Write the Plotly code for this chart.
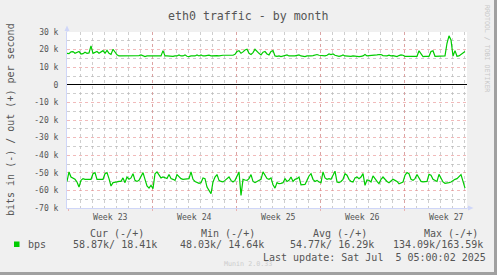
import plotly.graph_objects as go
import pandas as pd

# ---------------- data ----------------
start_time = "2025-06-01 22:00"
end_time = "2025-07-05 06:00"
sample_hours = 4

# out (+) traffic, kbit/s
out_kbps = [
    17.9, 17.7, 18.7, 18.9, 17.9, 18.5, 18.9, 17.5, 17.7, 18.5,
    17.9, 18.1, 22.1, 17.9, 18.5, 18.9, 17.9, 18.7, 19.4, 17.9,
    19.6, 17.9, 17.3, 20.2, 18.7, 17.0, 16.4, 16.4, 16.6, 16.2,
    16.4, 16.2, 16.2, 16.4, 16.2, 16.4, 16.6, 17.0, 16.4, 16.0,
    16.4, 16.4, 16.2, 16.4, 16.2, 16.4, 16.2, 16.4, 19.4, 16.4,
    16.4, 16.2, 16.4, 16.2, 16.4, 16.4, 17.0, 16.4, 16.4, 17.0,
    16.2, 16.0, 16.4, 16.2, 16.4, 17.0, 16.4, 17.0, 16.4, 16.4,
    16.6, 16.8, 16.4, 16.6, 16.4, 16.6, 16.4, 16.8, 16.8, 16.8,
    16.8, 16.8, 16.8, 16.8, 17.3, 18.9, 19.4, 17.9, 18.7, 19.8,
    20.2, 17.9, 17.2, 18.3, 20.2, 18.7, 17.9, 17.0, 18.5, 18.9,
    17.5, 17.0, 18.9, 19.4, 16.4, 16.2, 16.4, 16.0, 16.4, 16.8,
    17.0, 16.4, 16.2, 16.4, 16.4, 16.8, 17.0, 16.4, 16.2, 16.0,
    16.4, 16.2, 16.4, 16.6, 17.0, 17.2, 16.8, 16.6, 16.6, 16.4,
    16.8, 17.5, 17.2, 17.5, 16.8, 16.4, 16.2, 16.4, 17.0, 16.4,
    16.2, 16.0, 16.2, 16.4, 16.2, 16.4, 16.0, 16.2, 16.4, 17.2,
    16.4, 16.6, 16.6, 16.8, 16.6, 17.0, 17.2, 17.2, 16.6, 16.4,
    16.4, 16.8, 16.4, 16.6, 16.2, 16.0, 16.6, 17.0, 16.8, 16.2,
    16.2, 16.4, 16.2, 16.2, 16.4, 16.2, 19.3, 17.9, 16.0, 16.2,
    16.0, 16.2, 18.9, 19.3, 16.2, 16.2, 16.0, 16.2, 16.2, 16.4,
    23.6, 27.8, 25.5, 16.4, 19.4, 16.2, 16.4, 17.2, 18.1, 18.9,
]

# in (-) traffic, kbit/s (drawn below zero)
in_kbps = [
    54.9, 49.5, 52.4, 53.3, 53.7, 55.2, 58.1, 54.3, 53.3, 53.7,
    53.7, 53.3, 53.7, 50.5, 49.9, 53.7, 53.7, 53.3, 53.7, 50.5,
    49.9, 53.3, 57.5, 55.6, 55.2, 55.2, 54.9, 54.9, 52.9, 55.6,
    52.4, 53.7, 52.9, 50.5, 54.3, 54.9, 54.3, 52.4, 49.9, 53.7,
    57.5, 58.7, 57.1, 59.0, 50.5, 49.5, 51.4, 52.9, 52.4, 52.9,
    53.3, 51.0, 53.3, 53.7, 54.3, 51.0, 52.4, 53.3, 53.7, 53.7,
    53.7, 53.3, 49.5, 53.7, 54.9, 55.6, 56.0, 55.6, 52.9, 53.3,
    58.1, 60.0, 61.9, 55.2, 52.4, 51.0, 54.3, 54.9, 55.2, 54.3,
    53.3, 52.4, 54.3, 55.2, 54.3, 51.8, 49.5, 62.9, 53.7, 54.1,
    54.3, 53.3, 51.0, 54.9, 55.6, 54.9, 54.3, 53.7, 49.5, 51.8,
    53.3, 53.7, 52.9, 56.8, 58.7, 55.6, 56.2, 56.0, 55.6, 53.3,
    54.9, 54.3, 52.4, 54.9, 53.7, 53.3, 52.4, 56.8, 56.8, 56.6,
    54.3, 51.8, 50.5, 53.7, 54.9, 54.3, 55.2, 55.6, 49.5, 52.9,
    53.7, 53.3, 53.7, 51.4, 49.1, 55.2, 55.6, 54.9, 53.7, 50.5,
    51.4, 53.7, 54.9, 55.2, 52.9, 52.4, 53.3, 52.4, 50.5, 57.1,
    54.1, 54.3, 55.2, 51.8, 53.7, 54.9, 56.2, 53.7, 52.4, 53.7,
    54.9, 55.6, 54.9, 53.7, 54.3, 54.9, 56.2, 55.6, 55.2, 51.4,
    49.9, 50.5, 53.7, 54.3, 53.3, 51.0, 53.3, 54.9, 55.2, 55.0,
    54.9, 50.9, 51.4, 53.7, 54.5, 54.9, 50.9, 53.3, 55.2, 56.0,
    56.0, 55.6, 55.2, 54.3, 53.7, 53.3, 52.4, 51.0, 54.9, 58.7,
]

week_labels = ["Week 23", "Week 24", "Week 25", "Week 26", "Week 27"]
week_starts = ["2025-06-02", "2025-06-09", "2025-06-16", "2025-06-23", "2025-06-30"]
week_centers = ["2025-06-05 12:00", "2025-06-12 12:00", "2025-06-19 12:00",
                "2025-06-26 12:00", "2025-07-03 12:00"]

y_tick_vals = [30000, 20000, 10000, 0, -10000, -20000, -30000, -40000, -50000, -60000, -70000]
y_tick_text = ["30 k", "20 k", "10 k", "0", "-10 k", "-20 k", "-30 k", "-40 k", "-50 k", "-60 k", "-70 k"]

title_text = "eth0 traffic - by month"
y_title = "bits in (-) / out (+) per second"
legend_name = "bps"
legend_headers = ["Cur (-/+)", "Min (-/+)", "Avg (-/+)", "Max (-/+)"]
legend_values = ["58.87k/ 18.41k", "48.03k/ 14.64k", "54.77k/ 16.29k", "134.09k/163.59k"]
last_update = "Last update: Sat Jul\u00a0\u00a05 05:00:02 2025"
side_text = "RRDTOOL / TOBI OETIKER"
munin_text = "Munin 2.0.33"

# ---------------- style / geometry ----------------
W, H = 497, 275
ML, MR, MT, MB = 67, 30, 32, 67
PW = W - ML - MR
PH = H - MT - MB
FONT = "DejaVu Sans Mono"
TXT = "#555555"
GREEN = "#00cc00"
AXIS = "#cfd6f8"
MAJ = "rgba(230,130,130,0.55)"
MIN = "rgba(185,185,185,0.7)"


def xp(px):
    return (px - ML) / PW


def yp(py):
    return (H - MB - py) / PH


times = pd.date_range(start_time, periods=len(out_kbps), freq=f"{sample_hours}h")
day_grid = pd.date_range("2025-06-02", end_time, freq="1D")
y_minor = list(range(-65000, 30000, 10000))

fig = go.Figure()
fig.add_trace(go.Scatter(x=times, y=[v * 1000 for v in out_kbps], mode="lines",
                         line=dict(color=GREEN, width=1.2), hoverinfo="skip"))
fig.add_trace(go.Scatter(x=times, y=[-v * 1000 for v in in_kbps], mode="lines",
                         line=dict(color=GREEN, width=1.2), hoverinfo="skip"))

fig.update_layout(
    width=W, height=H,
    margin=dict(l=ML, r=MR, t=MT, b=MB, pad=0),
    paper_bgcolor="#f0f0f0", plot_bgcolor="#ffffff",
    showlegend=False,
    font=dict(family=FONT, color=TXT, size=8),
    xaxis=dict(
        type="date", range=[start_time, end_time],
        tickmode="array", tickvals=week_starts, showticklabels=False,
        ticks="outside", ticklen=2, tickcolor=MAJ,
        showgrid=True, gridcolor=MAJ, griddash="dot", gridwidth=1,
        minor=dict(tickmode="array", tickvals=list(day_grid), showgrid=True,
                   gridcolor=MIN, griddash="dot", gridwidth=1, ticks=""),
        showline=True, linecolor=AXIS, linewidth=1, zeroline=False,
        fixedrange=True,
    ),
    yaxis=dict(
        range=[-70000, 30000],
        tickmode="array", tickvals=y_tick_vals, ticktext=y_tick_text,
        ticks="", ticklabelstandoff=6,
        tickfont=dict(family=FONT, size=8, color=TXT),
        showgrid=True, gridcolor=MAJ, griddash="dot", gridwidth=1,
        minor=dict(tickmode="array", tickvals=y_minor, showgrid=True,
                   gridcolor=MIN, griddash="dot", gridwidth=1, ticks=""),
        zeroline=True, zerolinecolor="#000000", zerolinewidth=1.2,
        showline=True, linecolor=AXIS, linewidth=1,
        fixedrange=True,
    ),
)

annotations = []
annotations.append(dict(text=title_text, xref="paper", yref="paper", x=xp(248), y=yp(15.5),
                        xanchor="center", yanchor="middle", showarrow=False, borderpad=0,
                        font=dict(family=FONT, size=11.6, color=TXT)))
annotations.append(dict(text=y_title, xref="paper", yref="paper", x=xp(10), y=0.5, textangle=-90,
                        xanchor="center", yanchor="middle", showarrow=False, borderpad=0,
                        font=dict(family=FONT, size=10, color=TXT)))
annotations.append(dict(text=side_text, xref="paper", yref="paper", x=xp(487.5), y=yp(48.5), textangle=90,
                        xanchor="center", yanchor="middle", showarrow=False, borderpad=0,
                        font=dict(family=FONT, size=6.6, color="#c8c8c8")))
for wc, wl in zip(week_centers, week_labels):
    annotations.append(dict(text=wl, xref="x", yref="paper", x=wc, y=yp(216.7),
                            xanchor="center", yanchor="middle", showarrow=False, borderpad=0,
                            font=dict(family=FONT, size=8.2, color=TXT)))
hdr_x = [89, 200, 311.7, 422.7]
val_x = [72.3, 179.3, 289, 391.7]
for hx, ht in zip(hdr_x, legend_headers):
    annotations.append(dict(text=ht.replace(" ", "\u00a0"), xref="paper", yref="paper", x=xp(hx), y=yp(233.7),
                            xanchor="left", yanchor="middle", showarrow=False, borderpad=0,
                            font=dict(family=FONT, size=10, color=TXT)))
for vx, vt in zip(val_x, legend_values):
    annotations.append(dict(text=vt.replace(" ", "\u00a0"), xref="paper", yref="paper", x=xp(vx), y=yp(244.5),
                            xanchor="left", yanchor="middle", showarrow=False, borderpad=0,
                            font=dict(family=FONT, size=10, color=TXT)))
annotations.append(dict(text=legend_name, xref="paper", yref="paper", x=xp(26.7), y=yp(244.5),
                        xanchor="left", yanchor="middle", showarrow=False, borderpad=0,
                        font=dict(family=FONT, size=10, color=TXT)))
annotations.append(dict(text=last_update, xref="paper", yref="paper", x=xp(261.7), y=yp(257.5),
                        xanchor="left", yanchor="middle", showarrow=False, borderpad=0,
                        font=dict(family=FONT, size=10, color=TXT)))
annotations.append(dict(text=munin_text, xref="paper", yref="paper", x=xp(223), y=yp(263.5),
                        xanchor="left", yanchor="middle", showarrow=False, borderpad=0,
                        font=dict(family=FONT, size=6.7, color="#cccccc")))
fig.update_layout(annotations=annotations)

shapes = []
shapes.append(dict(type="line", xref="paper", yref="paper", x0=0, x1=0, y0=1, y1=yp(28),
                   line=dict(color=AXIS, width=1)))
shapes.append(dict(type="path", xref="paper", yref="paper",
                   path=f"M {xp(67)},{yp(25.5)} L {xp(64.5)},{yp(31)} L {xp(69.5)},{yp(31)} Z",
                   fillcolor=AXIS, line=dict(color=AXIS, width=0)))
shapes.append(dict(type="line", xref="paper", yref="paper", x0=1, x1=xp(470), y0=0, y1=0,
                   line=dict(color=AXIS, width=1)))
shapes.append(dict(type="path", xref="paper", yref="paper",
                   path=f"M {xp(473.5)},{yp(208)} L {xp(468)},{yp(205.5)} L {xp(468)},{yp(210.5)} Z",
                   fillcolor=AXIS, line=dict(color=AXIS, width=0)))
shapes.append(dict(type="rect", xref="paper", yref="paper",
                   x0=xp(14), x1=xp(19.5), y0=yp(247), y1=yp(241.5),
                   fillcolor=GREEN, line=dict(width=0)))
shapes.append(dict(type="rect", xref="paper", yref="paper", layer="above",
                   x0=xp(494), x1=xp(497), y0=yp(275), y1=yp(0),
                   fillcolor="#a0a0a0", line=dict(width=0)))
shapes.append(dict(type="rect", xref="paper", yref="paper", layer="above",
                   x0=xp(0), x1=xp(497), y0=yp(275), y1=yp(272),
                   fillcolor="#a0a0a0", line=dict(width=0)))
fig.update_layout(shapes=shapes)

fig.write_html("out.html")
